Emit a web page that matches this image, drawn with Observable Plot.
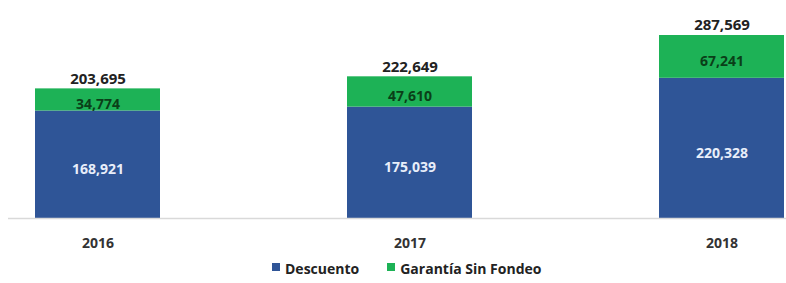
<!DOCTYPE html>
<html>
<head>
<meta charset="utf-8">
<script src="https://cdn.jsdelivr.net/npm/d3@7"></script>
<script src="https://cdn.jsdelivr.net/npm/@observablehq/plot@0.6"></script>
<style>
  body { margin: 0; background: #fff; font-family: "Open Sans", sans-serif; }
  #wrap { position: relative; width: 786px; height: 283px; }
  #legend { position: absolute; left: 272px; top: 259px; display: flex; gap: 28px;
            font-weight: 700; font-size: 14px; color: #222; }
  .item { display: flex; align-items: flex-start; }
  .sw { width: 8px; height: 8px; margin-right: 5px; margin-top: 4px; }
</style>
</head>
<body>
<div id="wrap"><div id="chart"></div><div id="legend"></div></div>
<script>
const years = ["2016", "2017", "2018"];
const descuento = [168921, 175039, 220328];
const garantia = [34774, 47610, 67241];
const totals = [203695, 222649, 287569];
const seriesNames = ["Descuento", "Garantía Sin Fondeo"];
const colors = ["#2F5597", "#1DB256"];

const data = [];
years.forEach((y, i) => {
  data.push({year: y, series: seriesNames[0], value: descuento[i]});
  data.push({year: y, series: seriesNames[1], value: garantia[i]});
});
const totalData = years.map((y, i) => ({year: y, total: totals[i]}));
const fmt = d3.format(",");

const chart = Plot.plot({
  width: 786,
  height: 255,
  marginLeft: 35,
  marginRight: 2,
  marginTop: 35,
  marginBottom: 37,
  style: {fontFamily: "Open Sans, sans-serif", background: "#fff"},
  x: {domain: years, paddingInner: 0.6, paddingOuter: 0, label: null},
  y: {domain: [0, 287569], axis: null},
  color: {domain: seriesNames, range: colors},
  marks: [
    Plot.barY(data, {x: "year", y: "value", fill: "series", order: seriesNames}),
    Plot.text(data, Plot.stackY({x: "year", y: "value", order: seriesNames,
      text: d => fmt(d.value),
      fill: d => d.series === seriesNames[0] ? "#E8EEFA" : "#0A3F18",
      fontWeight: 700, fontSize: 14, dy: 5})),
    Plot.text(totalData, {x: "year", y: "total", text: d => fmt(d.total),
      dy: -10, fontWeight: 700, fontSize: 15, fill: "#222"}),
    Plot.ruleY([0], {stroke: "#D9D9D9", strokeWidth: 1.5, insetLeft: -27, insetRight: -2}),
    Plot.axisX({tickSize: 0, tickPadding: 20, fontWeight: 700, fontSize: 14, fill: "#333", label: null})
  ]
});
document.getElementById("chart").appendChild(chart);

const legend = document.getElementById("legend");
seriesNames.forEach((s, i) => {
  const it = document.createElement("div");
  it.className = "item";
  const sw = document.createElement("span");
  sw.className = "sw";
  sw.style.background = colors[i];
  const t = document.createElement("span");
  t.textContent = s;
  it.appendChild(sw); it.appendChild(t);
  legend.appendChild(it);
});
</script>
</body>
</html>
